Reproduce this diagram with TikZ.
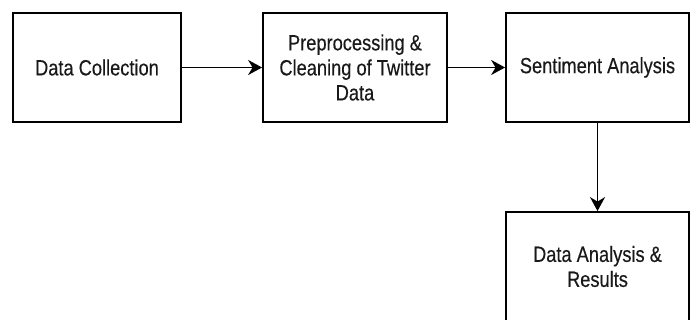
\documentclass[tikz,border=0pt]{standalone}
\usepackage{fontspec}
\newfontfamily\boxfont[FakeStretch=0.83,FakeBold=0.3]{Liberation Sans}
\usetikzlibrary{arrows.meta}
\begin{document}
\begin{tikzpicture}[x=1pt,y=-1pt,
  stagebox/.style={draw=black, line width=1.8pt, fill=white, minimum width=#1,
    minimum height=109pt, inner sep=0pt, align=center, text=black!90,
    font=\boxfont\fontsize{22}{25}\selectfont},
  flow/.style={line width=1.8pt, -{Stealth[length=14pt,width=15pt,inset=4.5pt]}}]
  \useasboundingbox (0,0) rectangle (694,320);
  \begin{scope}
    \clip (0,0) rectangle (694,320);
    \node[stagebox=168pt] (collect) at (97,67.5) {Data Collection};
    \node[stagebox=184pt] (clean) at (355,67.5) {Preprocessing \&\\Cleaning of Twitter\\Data};
    \node[stagebox=183pt] (sentiment) at (597.5,67.5) {Sentiment Analysis};
    \node[stagebox=183pt] (results) at (597.5,266.5) {Data Analysis \&\\Results};
    \draw[flow] (collect) -- (clean);
    \draw[flow] (clean) -- (sentiment);
    \draw[flow] (sentiment) -- (results);
  \end{scope}
\end{tikzpicture}
\end{document}
